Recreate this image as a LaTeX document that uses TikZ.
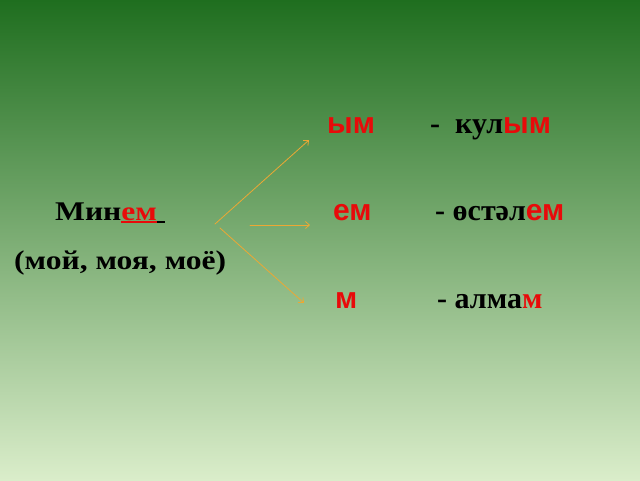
\documentclass[tikz,border=0pt]{standalone}
\usepackage{fontspec}
\setmainfont{Liberation Serif}
\newfontfamily\suffixfont{Liberation Sans}
\usetikzlibrary{arrows.meta}

\definecolor{bgtop}{RGB}{31,110,31}
\definecolor{bgmid}{RGB}{118,170,108}
\definecolor{bgbot}{RGB}{218,237,202}
\definecolor{arrowor}{RGB}{236,168,52}
\definecolor{sufred}{RGB}{232,10,10}

\tikzset{
  word/.style={anchor=base west,inner sep=0pt,font=\bfseries\fontsize{30}{36}\selectfont},
  small word/.style={anchor=base west,inner sep=0pt,font=\bfseries\fontsize{27}{32}\selectfont},
  branch/.style={-{Straight Barb[length=4pt,width=7pt]},draw=arrowor,line width=0.8pt}
}
\newcommand{\suf}[1]{\textcolor{sufred}{\suffixfont #1}}
\newcommand{\wide}[1]{\scalebox{1.17}[1]{#1}}
\newlength\ulwd
\newcommand{\ulword}[1]{\settowidth{\ulwd}{#1}\rlap{\rule[-2.5pt]{\ulwd}{1.6pt}}#1}

\begin{document}
\begin{tikzpicture}[line cap=round,line join=round,x=1pt,y=-1pt]
\shade[top color=bgtop,middle color=bgmid,bottom color=bgbot] (0,0) rectangle (640,480);
\useasboundingbox (0,0) rectangle (640,480);
% left column
\node[small word] (minem) at (55,220) {\wide{Мин\textcolor{sufred}{\ulword{ем}}\ulword{\ }}};
\node[small word] (moj) at (14,269) {\wide{(мой, моя, моё)}};
% suffixes
\node[word] (sufym) at (327,133) {\suf{ым}};
\node[word] (sufem) at (333,220) {\suf{ем}};
\node[word] (sufm) at (335,308) {\suf{м}};
% examples
\node[word] (exkul) at (430,133) {-\ \ кул\suf{ым}};
\node[word] (exostel) at (435,220) {- өстәл\suf{ем}};
\node[word] (exalma) at (437,308) {- алма\textcolor{sufred}{м}};
% arrows
\coordinate (fromup) at (215,224);
\coordinate (toup) at (309,140);
\coordinate (frommid) at (250,225);
\coordinate (tomid) at (310,225);
\coordinate (fromdown) at (220,228);
\coordinate (todown) at (304,303);
\draw[branch] (fromup) -- (toup);
\draw[branch] (frommid) -- (tomid);
\draw[branch] (fromdown) -- (todown);
\end{tikzpicture}
\end{document}
